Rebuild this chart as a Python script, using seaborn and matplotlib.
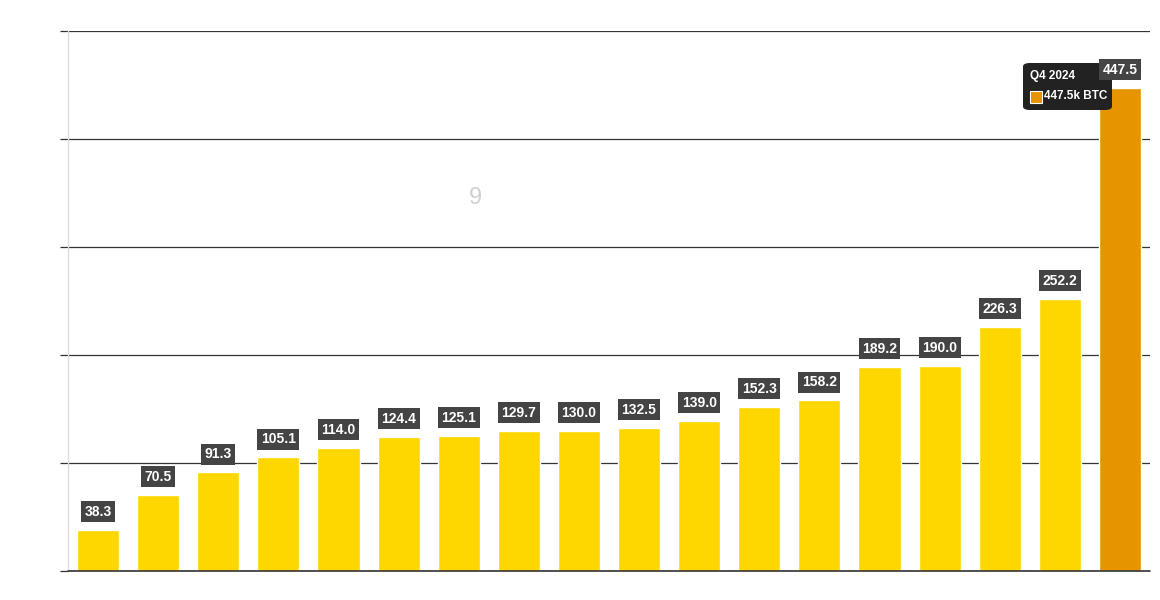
import pandas as pd
import matplotlib
matplotlib.use('Agg')
import matplotlib.pyplot as plt
import seaborn as sns
from matplotlib.patches import FancyBboxPatch, Rectangle

# quarterly values (k BTC)
quarters = ['Q3 2020', 'Q4 2020', 'Q1 2021', 'Q2 2021', 'Q3 2021', 'Q4 2021',
            'Q1 2022', 'Q2 2022', 'Q3 2022', 'Q4 2022', 'Q1 2023', 'Q2 2023',
            'Q3 2023', 'Q4 2023', 'Q1 2024', 'Q2 2024', 'Q3 2024', 'Q4 2024']
values = [38.3, 70.5, 91.3, 105.1, 114.0, 124.4, 125.1, 129.7, 130.0,
          132.5, 139.0, 152.3, 158.2, 189.2, 190.0, 226.3, 252.2, 447.5]
highlight = 'Q4 2024'
y_ticks = [0, 100, 200, 300, 400, 500]

YELLOW = '#FFD700'
ORANGE = '#E69500'

sns.set_theme(style='white')
plt.rcParams['font.family'] = ['Liberation Sans', 'DejaVu Sans']

df = pd.DataFrame({'quarter': quarters, 'value': values})
palette = {q: (ORANGE if q == highlight else YELLOW) for q in quarters}

fig = plt.figure(figsize=(11.6, 6), dpi=100)
ax = fig.add_axes([68 / 1160, 29 / 600, 1082 / 1160, 540 / 600])

sns.barplot(data=df, x='quarter', y='value', hue='quarter', palette=palette,
            width=0.7, legend=False, saturation=1, ax=ax, zorder=3)

ax.set_ylim(0, 500)
ax.set_xlim(-0.5, len(quarters) - 0.5)
ax.set_yticks(y_ticks)
ax.set_yticklabels([])
ax.set_xticks([])
ax.set_xlabel('')
ax.set_ylabel('')
ax.grid(axis='y', color='#333333', linewidth=0.9, zorder=0)
ax.tick_params(axis='y', length=6, width=0.9, color='#333333', left=True)
for s in ['top', 'right', 'bottom']:
    ax.spines[s].set_visible(False)
ax.spines['left'].set_color('#dddddd')
ax.spines['left'].set_linewidth(1)
ax.axhline(0, color='#333333', linewidth=1.2, zorder=4, clip_on=False)

# value labels
for i, v in enumerate(values):
    ax.annotate(f'{v:.1f}', xy=(i, v), xytext=(0, 11), textcoords='offset pixels',
                ha='center', va='bottom', fontsize=10, fontweight='bold', color='white',
                bbox=dict(boxstyle='square,pad=0.25', fc='#444444', ec='none'),
                zorder=7)

# faded watermark fragment
ax.text(475 / 1160, 1 - 198 / 600, '9', fontsize=17, color='#d0d0d0',
        ha='center', va='center', transform=fig.transFigure, zorder=1)

# tooltip
H = 600
tip = FancyBboxPatch((1023 / 1160, 1 - 110 / H), 89 / 1160, 47 / H,
                     boxstyle='round,pad=0,rounding_size=0.006',
                     transform=fig.transFigure, fc='#222222', ec='none',
                     zorder=5, clip_on=False)
ax.add_patch(tip)
ax.text(1030 / 1160, 1 - 76 / H, highlight, fontsize=8.5, fontweight='bold',
        color='white', ha='left', va='center', transform=fig.transFigure, zorder=6)
ax.add_patch(Rectangle((1030 / 1160, 1 - 103 / H), 12 / 1160, 12 / H,
                       transform=fig.transFigure, fc=ORANGE, ec='white',
                       lw=0.8, zorder=6, clip_on=False))
ax.text(1044 / 1160, 1 - 96 / H, f'{values[-1]:.1f}k BTC', fontsize=8.5,
        fontweight='bold', color='white', ha='left', va='center',
        transform=fig.transFigure, zorder=6)

fig.savefig('out.png', dpi=100)
